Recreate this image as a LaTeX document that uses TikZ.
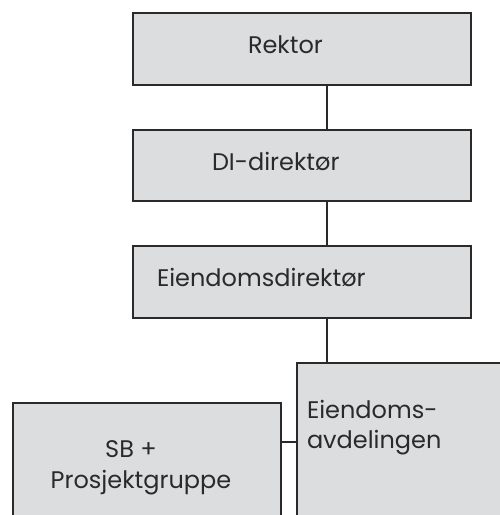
\documentclass[tikz,border=0pt]{standalone}
\usepackage{fontspec}
\setmainfont{Poppins}
\definecolor{boxfill}{HTML}{DCDDDF}
\definecolor{boxline}{HTML}{2A2A2A}
\begin{document}
\begin{tikzpicture}[x=1pt,y=1pt,
  orgbox/.style={draw=boxline, fill=boxfill, line width=2.2pt, inner sep=0pt, outer sep=0pt},
  conn/.style={draw=boxline, line width=2.2pt},
  lbl/.style={inner sep=0pt, outer sep=0pt, text=boxline, font=\fontsize{24}{30}\selectfont}]
\useasboundingbox (0,0) rectangle (500,-515);
\clip (0,0) rectangle (500,-515);
\node[orgbox, minimum width=338pt, minimum height=72pt] (rektor) at (302,-49) {};
\node[orgbox, minimum width=338pt, minimum height=71pt] (di) at (302,-165.5) {};
\node[orgbox, minimum width=338pt, minimum height=72pt] (eiendir) at (302,-282) {};
\node[orgbox, minimum width=223pt, minimum height=177pt] (avd) at (408.5,-451.5) {};
\node[orgbox, minimum width=268pt, minimum height=137pt] (sb) at (147,-471.5) {};
\node[lbl, anchor=base west] (trektor) at (248,-53) {Rektor};
\node[lbl, anchor=base west] (tdi) at (212,-170) {DI-direktør};
\node[lbl, anchor=base west] (teiendir) at (157,-286) {Eiendomsdirektør};
\node[lbl, anchor=base west] (tavd1) at (307,-418) {Eiendoms-};
\node[lbl, anchor=base west] (tavd2) at (307,-448) {avdelingen};
\node[lbl, anchor=base] (tsb1) at (131,-457) {SB +};
\node[lbl, anchor=base] (tsb2) at (141,-488) {Prosjektgruppe};
\coordinate (j) at (0,-442);
\draw[conn] ([xshift=25pt]rektor.south) -- ([xshift=25pt]di.north);
\draw[conn] ([xshift=25pt]di.south) -- ([xshift=25pt]eiendir.north);
\draw[conn] ([xshift=25pt]eiendir.south) -- ([xshift=25pt]eiendir.south |- avd.north);
\draw[conn] (sb.east |- j) -- (avd.west |- j);
\end{tikzpicture}
\end{document}
